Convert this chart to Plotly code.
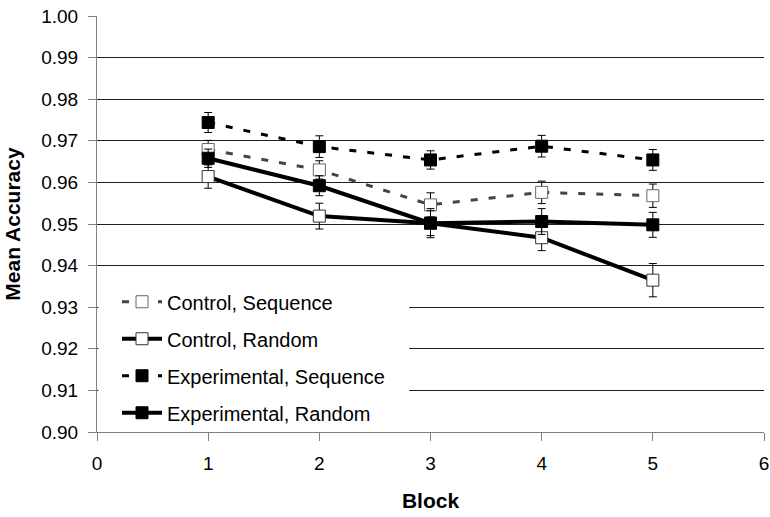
import plotly.graph_objects as go

blocks = [1, 2, 3, 4, 5]
control_seq = [0.9679, 0.9630, 0.9546, 0.9576, 0.9568]
control_seq_err = [0.0022, 0.0022, 0.0029, 0.0027, 0.0028]
control_rand = [0.9614, 0.9519, 0.9502, 0.9467, 0.9365]
control_rand_err = [0.0028, 0.0031, 0.0030, 0.0031, 0.0040]
exp_seq = [0.9744, 0.9686, 0.9654, 0.9687, 0.9654]
exp_seq_err = [0.0024, 0.0026, 0.0022, 0.0026, 0.0025]
exp_rand = [0.9658, 0.9592, 0.9502, 0.9506, 0.9498]
exp_rand_err = [0.0022, 0.0024, 0.0035, 0.0031, 0.0030]

series = [
    ("Control, Sequence", control_seq, control_seq_err, "#444444", "7px,11px", 3, "white", "#666666"),
    ("Control, Random", control_rand, control_rand_err, "black", "solid", 4, "white", "#333333"),
    ("Experimental, Sequence", exp_seq, exp_seq_err, "black", "7px,11px", 3, "black", "black"),
    ("Experimental, Random", exp_rand, exp_rand_err, "black", "solid", 4, "black", "black"),
]

fig = go.Figure()
for i, (name, ys, errs, lc, dash, lw, mfill, mline) in enumerate(series):
    fig.add_trace(go.Scatter(
        x=blocks, y=ys, name=name, mode="lines+markers", legendgroup=f"g{i}",
        line=dict(color=lc, width=lw, dash=dash),
        marker=dict(symbol="square", size=12, color=mfill, line=dict(color=mline, width=1)),
        error_y=dict(type="data", array=errs, visible=True, color="black", thickness=1, width=4),
    ))

font_family = "Liberation Sans, Arial, sans-serif"
fig.update_layout(
    width=770, height=517,
    margin=dict(l=97, r=1, t=16, b=85),
    paper_bgcolor="white", plot_bgcolor="white",
    font=dict(family=font_family, size=19, color="black"),
    showlegend=True,
    legend=dict(
        x=0.03, y=0.36, xanchor="left", yanchor="top",
        bgcolor="white", borderwidth=0,
        font=dict(size=20, family=font_family, color="black"),
        tracegroupgap=8, itemwidth=40,
    ),
    shapes=[dict(
        type="rect", xref="paper", yref="paper",
        x0=0.002, x1=0.468, y0=0.017, y1=0.353,
        fillcolor="white", line=dict(width=0), layer="above",
    )],
    xaxis=dict(
        range=[0, 6], dtick=1, tick0=0,
        showgrid=False, showline=True, linecolor="#808080", linewidth=1,
        ticks="outside", ticklen=8, tickcolor="#808080",
        zeroline=False, ticklabeloverflow="allow",
        title=dict(text="<b>Block</b>", font=dict(size=21), standoff=20),
        tickfont=dict(size=19), ticklabelstandoff=6,
    ),
    yaxis=dict(
        range=[0.90, 1.00], dtick=0.01, tick0=0.90, tickformat=".2f",
        showgrid=True, gridcolor="#202020", gridwidth=1,
        showline=True, linecolor="#808080", linewidth=1,
        ticks="outside", ticklen=8, tickcolor="#808080",
        zeroline=False,
        title=dict(text="<b>Mean Accuracy</b>", font=dict(size=21), standoff=14),
        tickfont=dict(size=19), ticklabelstandoff=6,
    ),
)

fig.write_html(
    "out.html",
    config={"displayModeBar": False},
    post_script="document.body.style.margin='0';document.body.style.overflow='hidden';",
)
